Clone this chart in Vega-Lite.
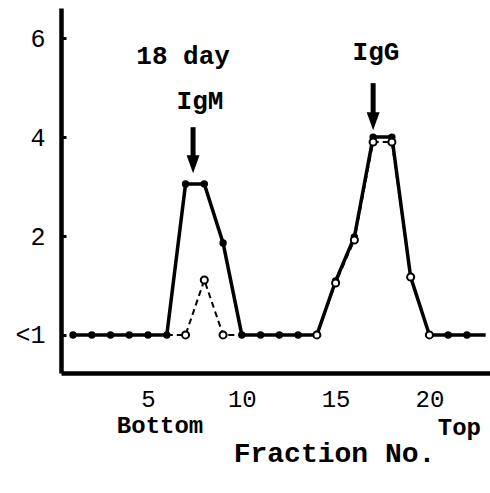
{
  "$schema": "https://vega.github.io/schema/vega-lite/v6.json",
  "autosize": "none",
  "width": 429,
  "height": 365,
  "padding": {"left": 61, "top": 8, "right": 0, "bottom": 120},
  "background": "white",
  "config": {
    "view": {"stroke": null},
    "font": "Liberation Mono",
    "axis": {"domainColor": "black", "domainWidth": 4.5, "labelColor": "black", "labelFont": "Liberation Mono", "labelFontSize": 25, "labelFontWeight": "normal", "grid": false}
  },
  "datasets": {
    "titer": [
      {"fraction": 1, "series": "solid", "titer": 0},
      {"fraction": 2, "series": "solid", "titer": 0},
      {"fraction": 3, "series": "solid", "titer": 0},
      {"fraction": 4, "series": "solid", "titer": 0},
      {"fraction": 5, "series": "solid", "titer": 0},
      {"fraction": 6, "series": "solid", "titer": 0},
      {"fraction": 7, "series": "solid", "titer": 3.05},
      {"fraction": 8, "series": "solid", "titer": 3.05},
      {"fraction": 9, "series": "solid", "titer": 1.86},
      {"fraction": 10, "series": "solid", "titer": 0},
      {"fraction": 11, "series": "solid", "titer": 0},
      {"fraction": 12, "series": "solid", "titer": 0},
      {"fraction": 13, "series": "solid", "titer": 0},
      {"fraction": 14, "series": "solid", "titer": 0},
      {"fraction": 15, "series": "solid", "titer": 1.09},
      {"fraction": 16, "series": "solid", "titer": 1.98},
      {"fraction": 17, "series": "solid", "titer": 4.0},
      {"fraction": 18, "series": "solid", "titer": 4.0},
      {"fraction": 19, "series": "solid", "titer": 1.17},
      {"fraction": 20, "series": "solid", "titer": 0},
      {"fraction": 21, "series": "solid", "titer": 0},
      {"fraction": 22, "series": "solid", "titer": 0},
      {"fraction": 23, "series": "solid", "titer": 0},
      {"fraction": 6, "series": "dashed", "titer": 0},
      {"fraction": 7, "series": "dashed", "titer": 0},
      {"fraction": 8, "series": "dashed", "titer": 1.11},
      {"fraction": 9, "series": "dashed", "titer": 0},
      {"fraction": 10, "series": "dashed", "titer": 0},
      {"fraction": 13, "series": "dashed", "titer": 0},
      {"fraction": 14, "series": "dashed", "titer": 0},
      {"fraction": 15, "series": "dashed", "titer": 1.05},
      {"fraction": 16, "series": "dashed", "titer": 1.92},
      {"fraction": 17, "series": "dashed", "titer": 3.9},
      {"fraction": 18, "series": "dashed", "titer": 3.9},
      {"fraction": 19, "series": "dashed", "titer": 1.17},
      {"fraction": 20, "series": "dashed", "titer": 0},
      {"fraction": 21, "series": "dashed", "titer": 0}
    ],
    "notes": [
      {"fraction": 6.87, "level": 5.64, "label": "18 day", "size": 26},
      {"fraction": 7.77, "level": 4.73, "label": "IgM", "size": 26},
      {"fraction": 17.15, "level": 5.72, "label": "IgG", "size": 26},
      {"fraction": 5.64, "level": -1.85, "label": "Bottom", "size": 24},
      {"fraction": 21.6, "level": -1.88, "label": "Top", "size": 24}
    ],
    "arrows": [
      {"fraction": 7.4, "start": 4.2, "shaftEnd": 3.6, "head": 3.45},
      {"fraction": 17.0, "start": 5.09, "shaftEnd": 4.45, "head": 4.32}
    ]
  },
  "layer": [
    {
      "data": {"name": "titer"},
      "transform": [{"filter": "datum.series == 'dashed'"}],
      "mark": {"type": "line", "color": "black", "strokeWidth": 2, "strokeDash": [6, 4]},
      "encoding": {
        "x": {"field": "fraction", "type": "quantitative", "scale": {"domain": [0.36, 23.23], "nice": false, "zero": false},
          "axis": {"values": [5, 10, 15, 20], "ticks": false, "labelPadding": 14, "labelFontSize": 24, "title": "Fraction No.", "titleFont": "Liberation Mono", "titleFontSize": 28, "titleFontWeight": "bold", "titleColor": "black", "titleX": 273, "titleY": 80, "titleAlign": "center", "titleBaseline": "middle"}},
        "y": {"field": "titer", "type": "quantitative", "scale": {"domain": [-0.77, 6.61], "nice": false, "zero": false},
          "axis": {"values": [0, 2, 4, 6], "labelExpr": "datum.value == 0 ? '<1' : datum.label", "tickColor": "black", "tickWidth": 3, "tickSize": -5, "labelPadding": 21, "title": null}}
      }
    },
    {
      "data": {"name": "titer"},
      "transform": [{"filter": "datum.series == 'solid'"}],
      "mark": {"type": "line", "color": "black", "strokeWidth": 3.5},
      "encoding": {
        "x": {"field": "fraction", "type": "quantitative"},
        "y": {"field": "titer", "type": "quantitative"}
      }
    },
    {
      "data": {"name": "titer"},
      "transform": [{"filter": "datum.series == 'solid' && datum.fraction <= 22"}],
      "mark": {"type": "point", "shape": "circle", "filled": true, "color": "black", "size": 55, "opacity": 1},
      "encoding": {
        "x": {"field": "fraction", "type": "quantitative"},
        "y": {"field": "titer", "type": "quantitative"}
      }
    },
    {
      "data": {"name": "titer"},
      "transform": [{"filter": "datum.series == 'dashed' && ((datum.fraction >= 7 && datum.fraction <= 9) || (datum.fraction >= 14 && datum.fraction <= 20))"}],
      "mark": {"type": "point", "shape": "circle", "filled": true, "fill": "white", "stroke": "black", "strokeWidth": 2, "size": 50, "opacity": 1},
      "encoding": {
        "x": {"field": "fraction", "type": "quantitative"},
        "y": {"field": "titer", "type": "quantitative"}
      }
    },
    {
      "data": {"name": "arrows"},
      "mark": {"type": "rule", "color": "black", "strokeWidth": 5},
      "encoding": {
        "x": {"field": "fraction", "type": "quantitative"},
        "y": {"field": "start", "type": "quantitative"},
        "y2": {"field": "shaftEnd"}
      }
    },
    {
      "data": {"name": "arrows"},
      "mark": {"type": "point", "shape": "M-0.72,-1L0.72,-1L0,1Z", "filled": true, "color": "black", "size": 324, "opacity": 1},
      "encoding": {
        "x": {"field": "fraction", "type": "quantitative"},
        "y": {"field": "head", "type": "quantitative"}
      }
    },
    {
      "data": {"name": "notes"},
      "mark": {"type": "text", "font": "Liberation Mono", "fontWeight": "bold", "color": "black", "align": "center", "baseline": "middle", "clip": false},
      "encoding": {
        "x": {"field": "fraction", "type": "quantitative"},
        "y": {"field": "level", "type": "quantitative"},
        "text": {"field": "label"},
        "size": {"field": "size", "type": "quantitative", "scale": null}
      }
    }
  ]
}
